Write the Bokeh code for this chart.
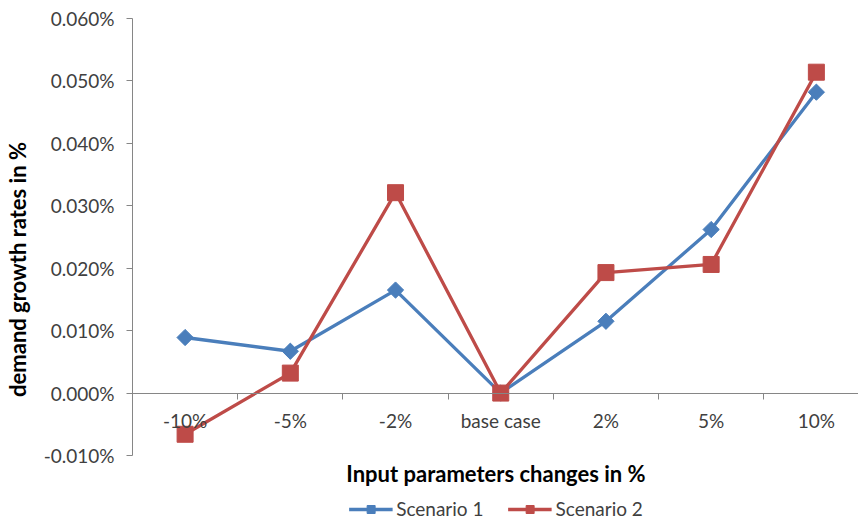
import numpy as np
from bokeh.plotting import figure
from bokeh.models import (Range1d, FixedTicker, PrintfTickFormatter,
                          LinearAxis, Legend, LegendItem, ColumnDataSource)
from bokeh.embed import file_html
from bokeh.resources import INLINE

categories = ["-10%", "-5%", "-2%", "base case", "2%", "5%", "10%"]
scenario1 = [0.0089, 0.0067, 0.0165, 0.0000, 0.0115, 0.0262, 0.0482]
scenario2 = [-0.0066, 0.0032, 0.0321, 0.0000, 0.0193, 0.0206, 0.0514]
y_ticks = [-0.010, 0.000, 0.010, 0.020, 0.030, 0.040, 0.050, 0.060]

FONT = "Lato"
TXT = "#404040"
GRID = "#868686"
BLUE = "#4A7EBB"
RED = "#BE4B48"
LBL = "19px"
TTL = "22px"

xpos = np.arange(len(categories)) + 0.5
src = ColumnDataSource(dict(x=xpos, s1=scenario1, s2=scenario2))

# plot area extends below the lowest tick to make room for the title and legend
span = y_ticks[-1] - y_ticks[0]
y_start = y_ticks[0] - span * 65 / 437

p = figure(frame_width=727, frame_height=502, output_backend="svg", toolbar_location=None,
           x_range=Range1d(0, 6.91), y_range=Range1d(y_start, y_ticks[-1]),
           min_border_left=131, min_border_right=0, min_border_top=18, min_border_bottom=0,
           x_axis_type=None, y_axis_type=None)
p.outline_line_color = None
p.background_fill_color = "white"
p.border_fill_color = "white"

# y axis
yaxis = LinearAxis(ticker=FixedTicker(ticks=y_ticks, minor_ticks=[]),
                   formatter=PrintfTickFormatter(format="%.3f%%"),
                   bounds=(y_ticks[0], y_ticks[-1]))
yaxis.axis_label = "demand growth rates in %"
yaxis.axis_label_text_font = FONT
yaxis.axis_label_text_font_style = "bold"
yaxis.axis_label_text_font_size = TTL
yaxis.axis_label_text_color = "#000000"
yaxis.axis_label_standoff = 10
yaxis.major_label_text_font = FONT
yaxis.major_label_text_font_size = LBL
yaxis.major_label_text_color = TXT
yaxis.major_label_standoff = 12
yaxis.axis_line_color = GRID
yaxis.major_tick_line_color = GRID
yaxis.major_tick_out = 6
yaxis.major_tick_in = 0
yaxis.minor_tick_line_color = None
p.add_layout(yaxis, "left")
p.ygrid.ticker = FixedTicker(ticks=y_ticks)
p.ygrid.grid_line_color = GRID
p.ygrid.grid_line_width = 1

# category axis at y = 0
xaxis = LinearAxis(ticker=FixedTicker(ticks=list(xpos),
                                      minor_ticks=list(range(1, len(categories) + 1))),
                   major_label_overrides={float(v): c for v, c in zip(xpos, categories)})
xaxis.fixed_location = 0
xaxis.axis_line_color = GRID
xaxis.major_tick_line_color = None
xaxis.minor_tick_line_color = GRID
xaxis.minor_tick_out = 6
xaxis.minor_tick_in = 0
xaxis.major_label_text_font = FONT
xaxis.major_label_text_font_size = LBL
xaxis.major_label_text_color = TXT
xaxis.major_label_standoff = 10
p.add_layout(xaxis, "below")
p.xgrid.visible = False

# x-axis title, placed just under the lowest gridline
tax = LinearAxis(ticker=FixedTicker(ticks=[]))
tax.fixed_location = y_ticks[0]
tax.axis_line_color = None
tax.major_tick_line_color = None
tax.minor_tick_line_color = None
tax.major_tick_out = 0
tax.major_label_standoff = 0
tax.major_label_text_font_size = "0px"
tax.axis_label = "Input parameters changes in %"
tax.axis_label_text_font = FONT
tax.axis_label_text_font_style = "bold"
tax.axis_label_text_font_size = TTL
tax.axis_label_text_color = "#000000"
tax.axis_label_standoff = 4
p.add_layout(tax, "below")

l1 = p.line("x", "s1", source=src, line_color=BLUE, line_width=3.3)
m1 = p.scatter("x", "s1", source=src, marker="square", angle=np.pi / 4, size=11.5,
               fill_color=BLUE, line_color=BLUE, line_width=1)
l2 = p.line("x", "s2", source=src, line_color=RED, line_width=3.3)
m2 = p.scatter("x", "s2", source=src, marker="square", size=16, fill_color=RED,
               line_color=RED, line_width=1)

legend = Legend(items=[LegendItem(label="Scenario 1", renderers=[l1, m1]),
                       LegendItem(label="Scenario 2", renderers=[l2, m2])],
                orientation="horizontal", location="bottom_center",
                label_text_font=FONT, label_text_font_size=LBL, label_text_color=TXT,
                glyph_width=44, glyph_height=20, label_height=20, spacing=24,
                label_standoff=4, padding=0, margin=0,
                border_line_color=None, background_fill_alpha=0)
p.add_layout(legend, "center")

open("out.html", "w").write(file_html(p, INLINE))
